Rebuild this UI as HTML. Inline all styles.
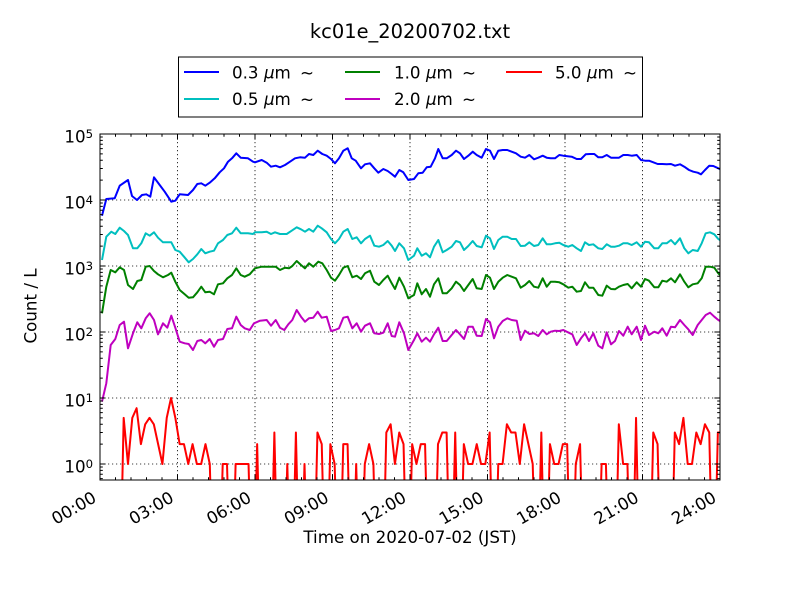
<!DOCTYPE html>
<html>
<head>
<meta charset="utf-8">
<style>
html,body{margin:0;padding:0;background:#fff;}
svg{display:block;}
text{font-family:"DejaVu Sans","Liberation Sans",sans-serif;fill:#000;}
</style>
</head>
<body>
<svg width="800" height="600" viewBox="0 0 800 600" xmlns="http://www.w3.org/2000/svg">
<defs>
<clipPath id="ax"><rect x="100" y="134" width="620" height="346"/></clipPath>
</defs>
<rect x="0" y="0" width="800" height="600" fill="#fff"/>

<!-- title -->
<text x="410" y="38" font-size="19.44" text-anchor="middle">kc01e_20200702.txt</text>

<!-- grid -->
<g stroke="#000" stroke-width="0.8" stroke-dasharray="1.2 2.8" fill="none">
<path d="M177.5 134V480M255 134V480M332.5 134V480M410 134V480M487.5 134V480M565 134V480M642.5 134V480"/>
<path d="M100 200H720M100 266H720M100 332H720M100 398H720M100 464H720"/>
</g>

<!-- series -->
<g clip-path="url(#ax)" fill="none" stroke-width="2" stroke-linejoin="round">
<polyline stroke="#0000ff" points="102,215.7 106.3,199 114.7,198.3 119.7,185.7 128,180 132,196 137,200 142,195 146.3,194.3 150.3,196.7 154,177.3 159.7,185 164.7,191.7 171.3,201.7 175.3,200.7 179.7,194.3 188,195 193,190 197.3,184 201.3,183.3 205.3,185.7 209.7,182.7 214.7,178.3 219.7,172.3 224,168.3 228,161.7 232,158.3 236.3,153.3 240.7,157.7 248,158.3 253,161.7 255,162.3 261.7,160 266.7,162.7 271,166.7 275.7,165.7 280,167.3 285,165 290,161.7 295,158.3 300,157.3 305,157.7 309,154 313.3,155 317.7,150.7 322.3,154 326.7,155.7 331,159 335,163.3 339,158.3 343.3,150.7 347.7,148.3 351.7,158.3 355.7,160.7 361,168.3 365,164.3 370,163.3 374.3,168.3 378.3,172.7 383.3,169 387.7,171 391.7,174 395,176.7 399.3,170 403.3,172.3 408.3,180 414,179 418.3,173.3 422.7,172.7 426.7,167.3 430.7,166.7 435,158.3 438.3,149 442.7,158.3 446.7,158.3 451.7,155 456,150.7 460,153.3 464,159 468.3,155.7 472.7,151.7 476.7,155 481.7,157.7 486,149 490,150.7 494,159 498.3,150.7 502.7,150 507.3,150 511.7,151.7 516,153.3 520.7,156.7 525,157.7 529.3,155 534,159.3 538.3,157.7 542.7,155.7 546.7,157.7 550.7,158.3 555,158.3 559.3,155 563.3,155.7 571.7,156.7 576.7,159 581,159 585.7,154.3 590,154 594.3,154 598.3,157.3 602.3,157.3 606.7,155 611,157.7 615,157.7 619,157.7 623.3,155 627.7,155 631.7,155.7 636.7,155 641,160 645,160.7 649,160.7 653.3,162.3 657.7,164 662.3,164 666.7,164.3 671,164 675,165.7 680,164.3 684.3,166.7 689,170 693.3,171.7 697.7,172.7 701,174.3 705,170 709.3,165.7 713.3,166 718.3,168.3 720,169.3"/>
<polyline stroke="#00bfbf" points="102,260 106.3,236.7 111.3,231.7 115.3,234 119.7,227.7 124,231 128,235 133,248.3 137.3,248.3 141.3,243.3 145.7,233.3 149.7,235.7 154,232.3 158,237.7 163,242.3 171.3,242.3 175.3,250 179.7,251.7 184,256.7 188.7,262.3 193,259 197.3,254.3 201.3,249 205.3,253.3 209.7,251.7 214,250.7 218,243.3 223,240 227.3,235 232,233.3 236.3,227.7 240.7,233.3 248,233.3 253,234 255,232.3 261.7,232.3 266.7,231.7 271,234 275,232.3 280,234 286.7,234 291.7,230.7 296.7,227.3 301,229.3 305,231.7 309,229 313.3,231.7 317.7,225.7 321.7,228.3 326.7,232.3 331,239 335,243.3 339,239 343.3,231.7 347.7,229 352.3,239 356.7,237.3 361,243.3 365,239 370,235.7 374.3,245.7 379,246.7 383.3,245 387.7,241 391.7,245.7 395,251 399.3,243.3 404,248.3 408.3,260 414,255.7 417.3,248.3 421.7,255.7 426,253.3 430,257.3 434,246.7 438.3,240 442.7,252.3 446.7,250 451.7,246.7 456,241 460,242.3 464,250 468.3,246 472.7,241 476.7,246 481.7,247.3 486,235.7 490,238.3 494,249 498.3,240 502.7,236.7 507.3,236.7 511.7,239 516,239 520.7,246 525,245.7 529.3,242.3 534,246 538.3,245 542.7,238.3 546.7,244.3 550.7,244.3 555,243.3 559.3,242.7 563.3,245 568.3,246.7 572.3,245 576.7,248.3 581,251 585,242.3 589,245 593.3,244.3 598.3,248.3 602.3,249 606.7,244.3 611,246.7 615,246.7 619,245.7 623.3,243.3 627.7,243.3 631.7,245 636.7,242.3 641,246.7 645,241.7 649,242.3 654.3,248.3 658.3,248.3 662.3,243.3 666.7,243.3 671,240 675,244.3 680,238.3 684.3,248.3 688.3,253.3 692.7,250 697.7,251 701.7,243.3 705.7,233.3 710,232.3 714.3,234.3 718.3,239 720,240"/>
<polyline stroke="#008000" points="102,313.3 106.3,286.7 110.7,270 115.3,272.3 119.7,267.3 124,270 128,285 133,289 137.3,281 141.3,280 145.7,266.7 149.7,266 154,271 158,274.3 163,277.3 168,275 171.3,272.7 175.3,281.7 179.7,290 184.7,294.3 188.7,297.7 193,297.3 197.3,292.3 201.3,286.7 205.3,292.3 209.7,291.7 214,294.3 218,284.3 223,283.3 227.3,278.3 232,275 236.3,268.3 240.7,275 244.7,276.7 249.7,274.3 255,268.3 261.7,266.7 270,266.7 275.7,266.7 280,270 285,267.7 289,268.3 292.3,266 296.7,261 301,265 305,268.3 309,263.3 313.3,266.7 318.3,261.7 322.3,263.3 326.7,270 331,277.7 335,280.7 339,275 343.3,267.7 347.7,266 352.3,277.3 356.7,275.7 361,279 365,273.3 370,270.7 374.3,281.7 379,285 383.3,280 387.7,275.7 391.7,283.3 395,289 399.3,277.7 404,286.7 408.3,298.3 414,295 417.3,283.3 421.7,294.3 426,289 430,296.7 434,284.3 438.3,278.3 442.7,293.3 446.7,293.3 451.7,288.3 456,281.7 460,285 464,291 468.3,285 472.7,279 476.7,288.3 481.7,289 486,275 490,277.7 494,289 498.3,281.7 502.7,277.7 507.3,275 511.7,276.7 516,278.3 520.7,287.7 525,285 529.3,281 534,286.7 538.3,287.7 542.7,278.3 546.7,286.7 550.7,281.7 555,281.7 559.3,282.3 563.3,284.3 568.3,287.7 572.3,286.7 576.7,291.7 581,291 585,282.3 589,287.7 593.3,287.7 598.3,295 602.3,295.7 606.7,285.7 611,289 615,289.3 619,286.7 623.3,285 627.7,284 631.7,288.3 636.7,282.3 641,286.7 645,279 649,280.7 654.3,287.3 658.3,287.3 662.3,280.7 666.7,281.7 671,278.3 675,282.3 680,274.3 684.3,281.7 688.3,287.3 692.7,284.3 697.7,283.3 701.7,278.3 705.7,266.7 710,266.7 714.3,267.7 718.3,273.3 720,275"/>
<polyline stroke="#bf00bf" points="102,401.7 106.3,383.3 110.7,345 115.3,339 119.7,325 124,321.7 128,348.3 133,333.3 137.3,322.3 141.3,328.3 145.7,318.3 149.7,313.3 154,320 158,334.3 163,323.3 167.3,327.7 171.3,315.7 175.3,327.7 179.7,341.7 184.7,343.3 188.7,344 193,350 197.3,341 201.3,340 205.3,343.3 209.7,339 214,346.7 218,340 223,339 227.3,329 232,328.3 236.3,316.7 240.7,325 244.7,328.3 249.7,330 254,323.3 260,320.7 266.7,320 271,325.7 275.7,320 280,327.7 284.3,330 288.3,324.3 292.3,320 296.7,310 301,316.7 305,321.7 309,318.3 313.3,317.7 317.7,311.7 321.7,317.7 326.7,316.7 331,331 335,330 339,328.3 343.3,317.7 347.7,316.7 352.3,328.3 356.7,323.3 361,331.7 365,325.7 370,323.3 374.3,333.3 379,334 383.3,332.7 387.7,323.3 391.7,336 395,336.7 399.3,322.3 404,333.3 408.3,350 414,340 417.3,333.3 421.7,341.7 426,337.7 430,341.7 434,334.3 438.3,327.7 442.7,341 446.7,341 451.7,335 456,330 460,334.3 464,339 468.3,326.7 472.7,326.7 476.7,335.7 481.7,336 486,319 490,322.3 494,338.3 498.3,326.7 502.7,321 507.3,318.3 511.7,320 516.7,320.7 520.7,340 525,330.7 529.3,334 534,333.3 538.3,336 542.7,330 546.7,334.3 550.7,331.7 555,330.7 559.3,331 563.3,330 570,333.3 572.3,334.3 576.7,345 581,338.3 585,333.3 589,341 593.3,333.3 598.3,345.7 602.3,348.3 606.7,332.3 611,344.3 615,341 619,331 623.3,335.7 627.7,326.7 631.7,334.3 636.7,326.7 641,340 645,325.7 649,335 654.3,331.7 658.3,333.3 662.3,328.3 666.7,335.7 671,326.7 675,327.3 680,320 684.3,325 688.3,329.3 692.7,335 697.7,325 701.7,320 705.7,315 710,312.7 714.3,316.7 718.3,320 720,321"/>
<polyline stroke="#ff0000" points="102.15,620 119.37,620 123.68,417.87 127.98,464 132.29,417.87 136.59,408.22 140.9,444.13 145.21,424.26 149.51,417.87 153.82,424.26 158.12,444.13 162.43,464 166.73,417.87 171.04,398 175.35,417.87 179.65,444.13 183.96,444.13 188.26,464 192.57,444.13 196.87,464 201.18,464 205.48,444.13 209.79,464 214.1,620 218.4,620 222.71,464 227.01,464 231.32,620 235.62,464 239.93,464 244.23,464 248.54,464 252.85,620 257.15,444.13 261.46,620 270.07,620 274.37,432.51 278.68,620 282.99,620 287.29,464 291.6,620 295.9,432.51 300.21,620 304.51,464 308.82,620 313.12,620 317.43,432.51 321.74,444.13 326.04,620 330.35,444.13 334.65,464 338.96,620 343.26,444.13 347.57,444.13 351.87,620 356.18,464 360.49,620 364.79,464 369.1,444.13 373.4,464 377.71,620 382.01,620 386.32,432.51 390.63,424.26 394.93,464 399.24,432.51 403.54,444.13 407.85,620 412.15,444.13 416.46,464 420.76,444.13 425.07,444.13 429.38,620 433.68,620 437.99,444.13 442.29,432.51 446.6,432.51 450.9,620 455.21,432.51 459.52,620 463.82,444.13 468.13,464 472.43,464 476.74,444.13 481.04,464 485.35,464 489.65,432.51 493.96,620 498.27,464 502.57,464 506.88,424.26 511.18,432.51 515.49,432.51 519.79,464 524.1,424.26 528.41,444.13 532.71,464 537.02,620 541.32,432.51 545.63,620 549.93,444.13 554.24,464 558.54,464 562.85,444.13 567.16,444.13 571.46,620 575.77,464 580.07,444.13 584.38,620 597.3,620 601.6,464 605.91,464 610.21,620 614.52,620 618.82,424.26 623.13,464 627.43,464 631.74,620 636.05,417.87 640.35,620 648.96,620 653.27,432.51 657.57,444.13 661.88,620 670.49,620 674.79,432.51 679.1,444.13 683.4,417.87 687.71,464 692.02,464 696.32,432.51 700.63,444.13 704.93,424.26 709.24,432.51 713.54,620 717.85,432.51 720,432.51"/>
</g>

<!-- axes frame -->
<rect x="100" y="134" width="620" height="346" fill="none" stroke="#000" stroke-width="1"/>

<!-- ticks -->
<g stroke="#000" stroke-width="1" fill="none">
<path d="M100 134h5.6M100 200h5.6M100 266h5.6M100 332h5.6M100 398h5.6M100 464h5.6M720 134h-5.6M720 200h-5.6M720 266h-5.6M720 332h-5.6M720 398h-5.6M720 464h-5.6"/>
<path d="M100 478.6h2.8M100 474.2h2.8M100 470.4h2.8M100 467h2.8M100 444.13h2.8M100 432.51h2.8M100 424.26h2.8M100 417.87h2.8M100 412.64h2.8M100 408.22h2.8M100 404.4h2.8M100 401.02h2.8M100 378.13h2.8M100 366.51h2.8M100 358.26h2.8M100 351.87h2.8M100 346.64h2.8M100 342.22h2.8M100 338.4h2.8M100 335.02h2.8M100 312.13h2.8M100 300.51h2.8M100 292.26h2.8M100 285.87h2.8M100 280.64h2.8M100 276.22h2.8M100 272.4h2.8M100 269.02h2.8M100 246.13h2.8M100 234.51h2.8M100 226.26h2.8M100 219.87h2.8M100 214.64h2.8M100 210.22h2.8M100 206.4h2.8M100 203.02h2.8M100 180.13h2.8M100 168.51h2.8M100 160.26h2.8M100 153.87h2.8M100 148.64h2.8M100 144.22h2.8M100 140.4h2.8M100 137.02h2.8"/>
<path d="M720 478.6h-2.8M720 474.2h-2.8M720 470.4h-2.8M720 467h-2.8M720 444.13h-2.8M720 432.51h-2.8M720 424.26h-2.8M720 417.87h-2.8M720 412.64h-2.8M720 408.22h-2.8M720 404.4h-2.8M720 401.02h-2.8M720 378.13h-2.8M720 366.51h-2.8M720 358.26h-2.8M720 351.87h-2.8M720 346.64h-2.8M720 342.22h-2.8M720 338.4h-2.8M720 335.02h-2.8M720 312.13h-2.8M720 300.51h-2.8M720 292.26h-2.8M720 285.87h-2.8M720 280.64h-2.8M720 276.22h-2.8M720 272.4h-2.8M720 269.02h-2.8M720 246.13h-2.8M720 234.51h-2.8M720 226.26h-2.8M720 219.87h-2.8M720 214.64h-2.8M720 210.22h-2.8M720 206.4h-2.8M720 203.02h-2.8M720 180.13h-2.8M720 168.51h-2.8M720 160.26h-2.8M720 153.87h-2.8M720 148.64h-2.8M720 144.22h-2.8M720 140.4h-2.8M720 137.02h-2.8"/>
<path d="M177.5 480v-5.6M255 480v-5.6M332.5 480v-5.6M410 480v-5.6M487.5 480v-5.6M565 480v-5.6M642.5 480v-5.6M177.5 134v5.6M255 134v5.6M332.5 134v5.6M410 134v5.6M487.5 134v5.6M565 134v5.6M642.5 134v5.6"/>
<path d="M115.5 480v-2.8M131 480v-2.8M146.5 480v-2.8M162 480v-2.8M193 480v-2.8M208.5 480v-2.8M224 480v-2.8M239.5 480v-2.8M270.5 480v-2.8M286 480v-2.8M301.5 480v-2.8M317 480v-2.8M348 480v-2.8M363.5 480v-2.8M379 480v-2.8M394.5 480v-2.8M425.5 480v-2.8M441 480v-2.8M456.5 480v-2.8M472 480v-2.8M503 480v-2.8M518.5 480v-2.8M534 480v-2.8M549.5 480v-2.8M580.5 480v-2.8M596 480v-2.8M611.5 480v-2.8M627 480v-2.8M658 480v-2.8M673.5 480v-2.8M689 480v-2.8M704.5 480v-2.8"/>
<path d="M115.5 134v2.8M131 134v2.8M146.5 134v2.8M162 134v2.8M193 134v2.8M208.5 134v2.8M224 134v2.8M239.5 134v2.8M270.5 134v2.8M286 134v2.8M301.5 134v2.8M317 134v2.8M348 134v2.8M363.5 134v2.8M379 134v2.8M394.5 134v2.8M425.5 134v2.8M441 134v2.8M456.5 134v2.8M472 134v2.8M503 134v2.8M518.5 134v2.8M534 134v2.8M549.5 134v2.8M580.5 134v2.8M596 134v2.8M611.5 134v2.8M627 134v2.8M658 134v2.8M673.5 134v2.8M689 134v2.8M704.5 134v2.8"/>
</g>

<!-- y tick labels -->
<g font-size="16.7" text-anchor="end">
<text x="93" y="142.6">10<tspan dy="-4.4" font-size="11.7">5</tspan></text>
<text x="93" y="208.6">10<tspan dy="-4.4" font-size="11.7">4</tspan></text>
<text x="93" y="274.6">10<tspan dy="-4.4" font-size="11.7">3</tspan></text>
<text x="93" y="340.6">10<tspan dy="-4.4" font-size="11.7">2</tspan></text>
<text x="93" y="406.6">10<tspan dy="-4.4" font-size="11.7">1</tspan></text>
<text x="93" y="472.6">10<tspan dy="-4.4" font-size="11.7">0</tspan></text>
</g>

<!-- x tick labels -->
<g font-size="16.7" text-anchor="end">
<text transform="translate(97.5,501) rotate(-30)">00:00</text>
<text transform="translate(175,501) rotate(-30)">03:00</text>
<text transform="translate(252.5,501) rotate(-30)">06:00</text>
<text transform="translate(330,501) rotate(-30)">09:00</text>
<text transform="translate(407.5,501) rotate(-30)">12:00</text>
<text transform="translate(485,501) rotate(-30)">15:00</text>
<text transform="translate(562.5,501) rotate(-30)">18:00</text>
<text transform="translate(640,501) rotate(-30)">21:00</text>
<text transform="translate(717.5,501) rotate(-30)">24:00</text>
</g>

<!-- axis labels -->
<text x="410" y="543" font-size="16.7" text-anchor="middle">Time on 2020-07-02 (JST)</text>
<text transform="translate(36.5,306) rotate(-90)" font-size="16.7" text-anchor="middle">Count / L</text>

<!-- legend -->
<rect x="178.5" y="57" width="464" height="60" fill="#fff" stroke="#000" stroke-width="1"/>
<g stroke-width="2" fill="none">
<line x1="184" y1="72" x2="219" y2="72" stroke="#0000ff"/>
<line x1="345" y1="72" x2="380" y2="72" stroke="#008000"/>
<line x1="506" y1="72" x2="542" y2="72" stroke="#ff0000"/>
<line x1="184" y1="99" x2="219" y2="99" stroke="#00bfbf"/>
<line x1="345" y1="99" x2="380" y2="99" stroke="#bf00bf"/>
</g>
<g font-size="16.7">
<text x="232" y="78.5">0.3</text><text x="264" y="78.5" font-style="italic">μ</text><text x="274.5" y="78.5">m</text><text x="300" y="78.5">~</text>
<text x="394" y="78.5">1.0</text><text x="426" y="78.5" font-style="italic">μ</text><text x="436.5" y="78.5">m</text><text x="462" y="78.5">~</text>
<text x="555" y="78.5">5.0</text><text x="587" y="78.5" font-style="italic">μ</text><text x="597.5" y="78.5">m</text><text x="623" y="78.5">~</text>
<text x="232" y="105">0.5</text><text x="264" y="105" font-style="italic">μ</text><text x="274.5" y="105">m</text><text x="300" y="105">~</text>
<text x="394" y="105">2.0</text><text x="426" y="105" font-style="italic">μ</text><text x="436.5" y="105">m</text><text x="462" y="105">~</text>
</g>
</svg>
</body>
</html>
